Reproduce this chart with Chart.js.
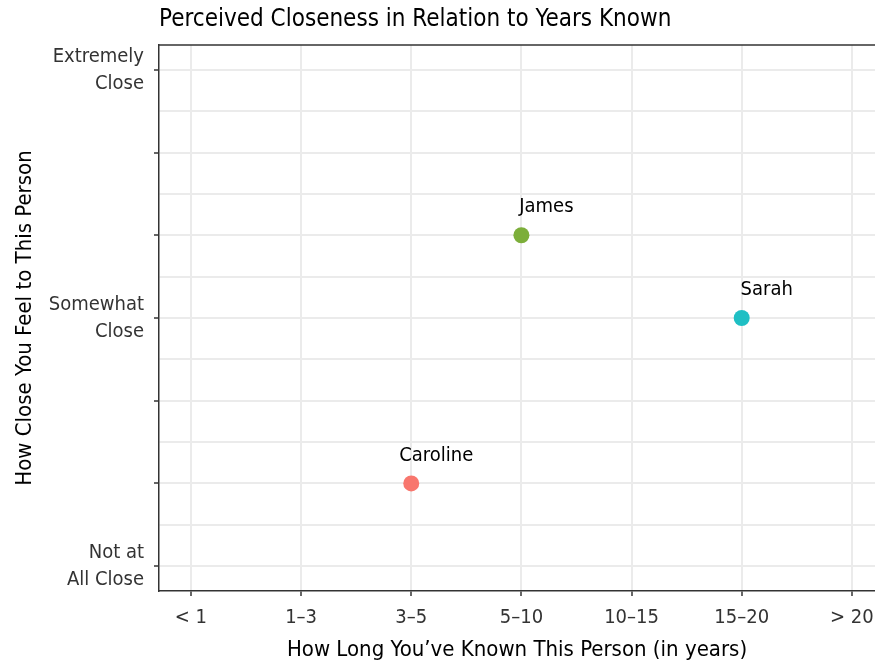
<!DOCTYPE html>
<html>
<head>
<meta charset="utf-8">
<script src="https://cdn.jsdelivr.net/npm/chart.js@4"></script>
<style>
  html, body { margin: 0; padding: 0; background: #fff; }
  #wrap { width: 875px; height: 664px; }
</style>
</head>
<body>
<div id="wrap"><canvas id="chart" width="875" height="664"></canvas></div>
<script>
// Data
const xCategories = ["< 1", "1–3", "3–5", "5–10", "10–15", "15–20", "> 20"];
const names = ["Caroline", "James", "Sarah"];
const yearsKnown = ["3–5", "5–10", "15–20"];
const closeness = [2, 5, 4];
const pointColors = ["#F8766D", "#7CAE3A", "#1FBFC4"];
const yTickValues = [1, 4, 7];
const yTickLabels = [["Not at", "All Close"], ["Somewhat", "Close"], ["Extremely", "Close"]];

const FONT = "'Liberation Sans Narrow', 'DejaVu Sans Condensed', 'Roboto', sans-serif";
const chartTitle = "Perceived Closeness in Relation to Years Known";

const points = names.map((n, i) => ({ x: xCategories.indexOf(yearsKnown[i]), y: closeness[i] }));

// title, top border and point names
const extras = {
  id: "extras",
  afterDraw(chart) {
    const ctx = chart.ctx;
    const area = chart.chartArea;
    ctx.save();
    ctx.strokeStyle = "#333";
    ctx.lineWidth = 1.5;
    ctx.beginPath();
    ctx.moveTo(area.left, area.top);
    ctx.lineTo(area.right, area.top);
    ctx.stroke();

    ctx.fillStyle = "#000";
    ctx.font = "24px " + FONT;
    ctx.textAlign = "left";
    ctx.textBaseline = "middle";
    ctx.fillText(chartTitle, area.left, 20);

    ctx.font = "20px " + FONT;
    ctx.textAlign = "center";
    chart.getDatasetMeta(0).data.forEach((pt, i) => {
      ctx.fillText(names[i], pt.x + 25, pt.y - 28);
    });
    ctx.restore();
  }
};

new Chart(document.getElementById("chart"), {
  type: "scatter",
  data: {
    datasets: [{
      data: points,
      backgroundColor: pointColors,
      borderWidth: 0,
      pointRadius: 8,
      pointHoverRadius: 8
    }]
  },
  options: {
    responsive: false,
    animation: false,
    devicePixelRatio: 1,
    layout: { autoPadding: false, padding: { top: 45, right: 0, left: 0, bottom: 0 } },
    plugins: { legend: { display: false }, tooltip: { enabled: false } },
    scales: {
      x: {
        type: "linear",
        min: -0.29,
        max: 6.21,
        afterBuildTicks: s => { s.ticks = xCategories.map((c, i) => ({ value: i })); },
        afterFit: s => { s.height = 73; s.paddingLeft = 0; s.paddingRight = 0; },
        border: { color: "#333", width: 1.5 },
        grid: { color: "#ebebeb", lineWidth: 2, tickLength: 5, tickColor: "#333", tickWidth: 1.5 },
        ticks: {
          font: { family: FONT, size: 20 },
          color: "#333",
          padding: 10,
          maxRotation: 0,
          autoSkip: false,
          callback: v => xCategories[v]
        },
        title: {
          display: true,
          text: "How Long You’ve Known This Person (in years)",
          font: { family: FONT, size: 22 },
          color: "#000",
          padding: { top: 0, bottom: 1 }
        }
      },
      y: {
        min: 0.7,
        max: 7.3,
        afterBuildTicks: s => {
          const t = [];
          for (let v = 1; v <= 7; v += 0.5) t.push({ value: v });
          s.ticks = t;
        },
        afterFit: s => { s.width = 159; s.paddingTop = 0; s.paddingBottom = 0; },
        border: { color: "#333", width: 1.5 },
        grid: {
          color: "#ebebeb",
          lineWidth: 2,
          tickLength: 5,
          tickWidth: 1.5,
          tickColor: c => (c.tick && Number.isInteger(c.tick.value)) ? "#333" : "rgba(0,0,0,0)"
        },
        ticks: {
          font: { family: FONT, size: 20, lineHeight: 1.35 },
          color: "#333",
          padding: 10,
          autoSkip: false,
          callback: v => {
            const k = yTickValues.indexOf(v);
            return k >= 0 ? yTickLabels[k] : "";
          }
        },
        title: {
          display: true,
          text: "How Close You Feel to This Person",
          font: { family: FONT, size: 22 },
          color: "#000",
          padding: { top: 12, bottom: 0 }
        }
      }
    }
  },
  plugins: [extras]
});
</script>
</body>
</html>
